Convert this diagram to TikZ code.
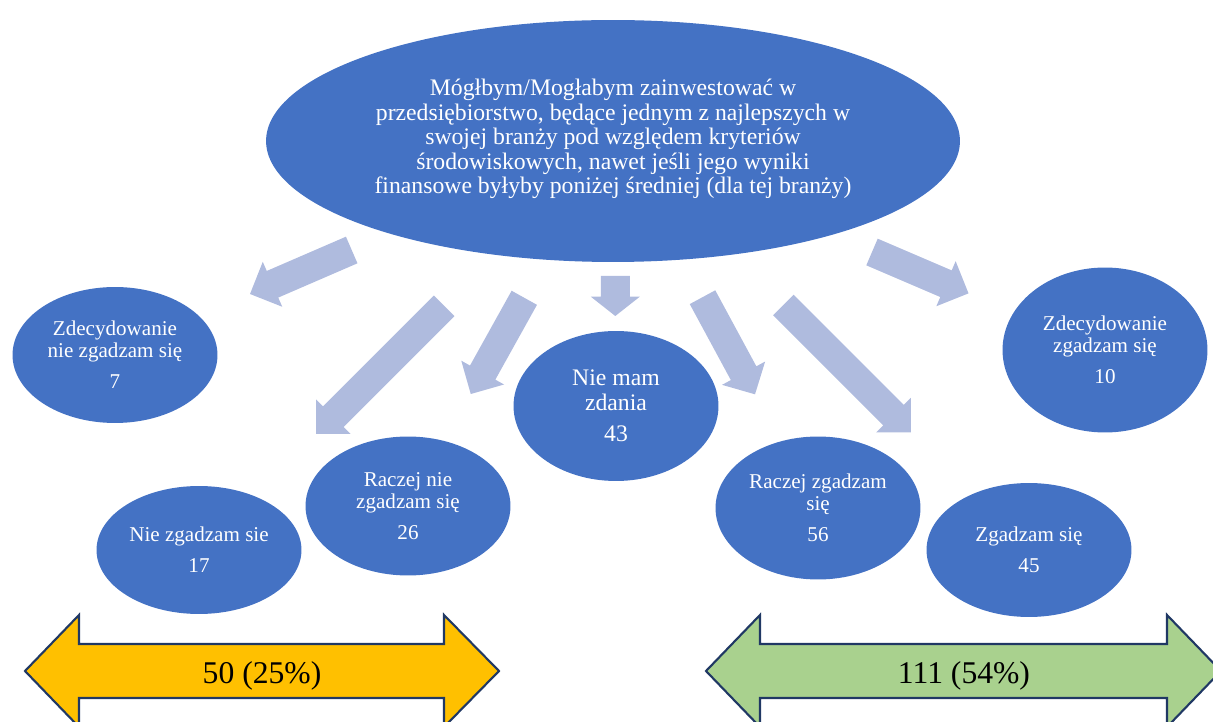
\documentclass[tikz,border=0pt]{standalone}
\usepackage{fontspec}
\setmainfont{Liberation Serif}
\usetikzlibrary{shapes.geometric}
\definecolor{ellblue}{HTML}{4472C4}
\definecolor{arrowblue}{HTML}{AFBBDE}
\definecolor{outlinenavy}{HTML}{203864}
\definecolor{disagree}{HTML}{FFC000}
\definecolor{agree}{HTML}{A9D18E}
\begin{document}
\begin{tikzpicture}[x=0.02cm, y=-0.02cm,
  question/.style={ellipse, fill=ellblue, inner sep=0pt,
    minimum width=13.88cm, minimum height=4.84cm},
  questiontext/.style={text=white, align=center, inner sep=0pt,
    font=\fontsize{13.5}{14}\selectfont},
  answer/.style={ellipse, fill=ellblue, text=white, align=center, inner sep=0pt,
    minimum width=4.1cm, font=\fontsize{12}{12.5}\selectfont},
  blockarrow/.style={fill=arrowblue},
  total/.style={draw=outlinenavy, line width=1.2pt, line join=miter},
  totaltext/.style={inner sep=0pt, font=\fontsize{18}{20}\selectfont}]
  \useasboundingbox (0,0) rectangle (1213,722);
  \clip (0,0) rectangle (1213,722);
  % the question
  \node [question] (q) at (613,141) {};
  \node [questiontext] (qtext) at (613,139) {Mógłbym/Mogłabym zainwestować w\\
    przedsiębiorstwo, będące jednym z najlepszych w\\
    swojej branży pod względem kryteriów\\
    środowiskowych, nawet jeśli jego wyniki\\
    finansowe byłyby poniżej średniej (dla tej branży)};
  % block arrows: x/y of tail, angle, length, head length
  \foreach \x/\y/\a/\l/\h in {351.7/250/203.4/110.8/24.5, 444.2/305.8/225/181.3/24.5,
      524.3/297.8/240.9/110.1/24.5, 615.3/276/270/40/19.3, 702.5/297.2/298.4/110.4/24,
      783.3/305/315/180.3/24.5, 872/252/336.8/105/24.5} {
    \fill [blockarrow, shift={(\x,\y)}, rotate=\a] (0,-14.5) -- ({\l-\h},-14.5)
      -- ({\l-\h},-24.5) -- (\l,0) -- ({\l-\h},24.5) -- ({\l-\h},14.5) -- (0,14.5) -- cycle;
  };
  % answers
  \node [answer, minimum height=2.72cm] (strongno) at (115,355)
    {Zdecydowanie\\nie zgadzam się\\[5pt]7};
  \node [answer, minimum height=2.56cm] (no) at (199,550)
    {Nie zgadzam sie\\[5pt]17};
  \node [answer, minimum height=2.78cm] (ratherno) at (408,506)
    {Raczej nie\\zgadzam się\\[5pt]26};
  \node [answer, minimum height=3.0cm, font=\fontsize{13.5}{14}\selectfont] (noopinion)
    at (616,406) {Nie mam\\zdania\\[4pt]43};
  \node [answer, minimum height=2.86cm] (ratheryes) at (818,508)
    {Raczej zgadzam\\się\\[5pt]56};
  \node [answer, minimum height=2.68cm] (yes) at (1029,550)
    {Zgadzam się\\[5pt]45};
  \node [answer, minimum height=3.3cm] (strongyes) at (1105,350)
    {Zdecydowanie\\zgadzam się\\[5pt]10};
  % totals
  \filldraw [total, fill=disagree] (25,671) -- (79,615) -- (79,644) -- (444,644)
    -- (444,615) -- (499,671) -- (444,727) -- (444,698) -- (79,698) -- (79,727) -- cycle;
  \node [totaltext] (negative) at (262,676) {50 (25\%)};
  \filldraw [total, fill=agree] (706,671) -- (760,615) -- (760,644) -- (1167,644)
    -- (1167,615) -- (1221,671) -- (1167,727) -- (1167,698) -- (760,698) -- (760,727) -- cycle;
  \node [totaltext] (positive) at (964,676) {111 (54\%)};
\end{tikzpicture}
\end{document}
